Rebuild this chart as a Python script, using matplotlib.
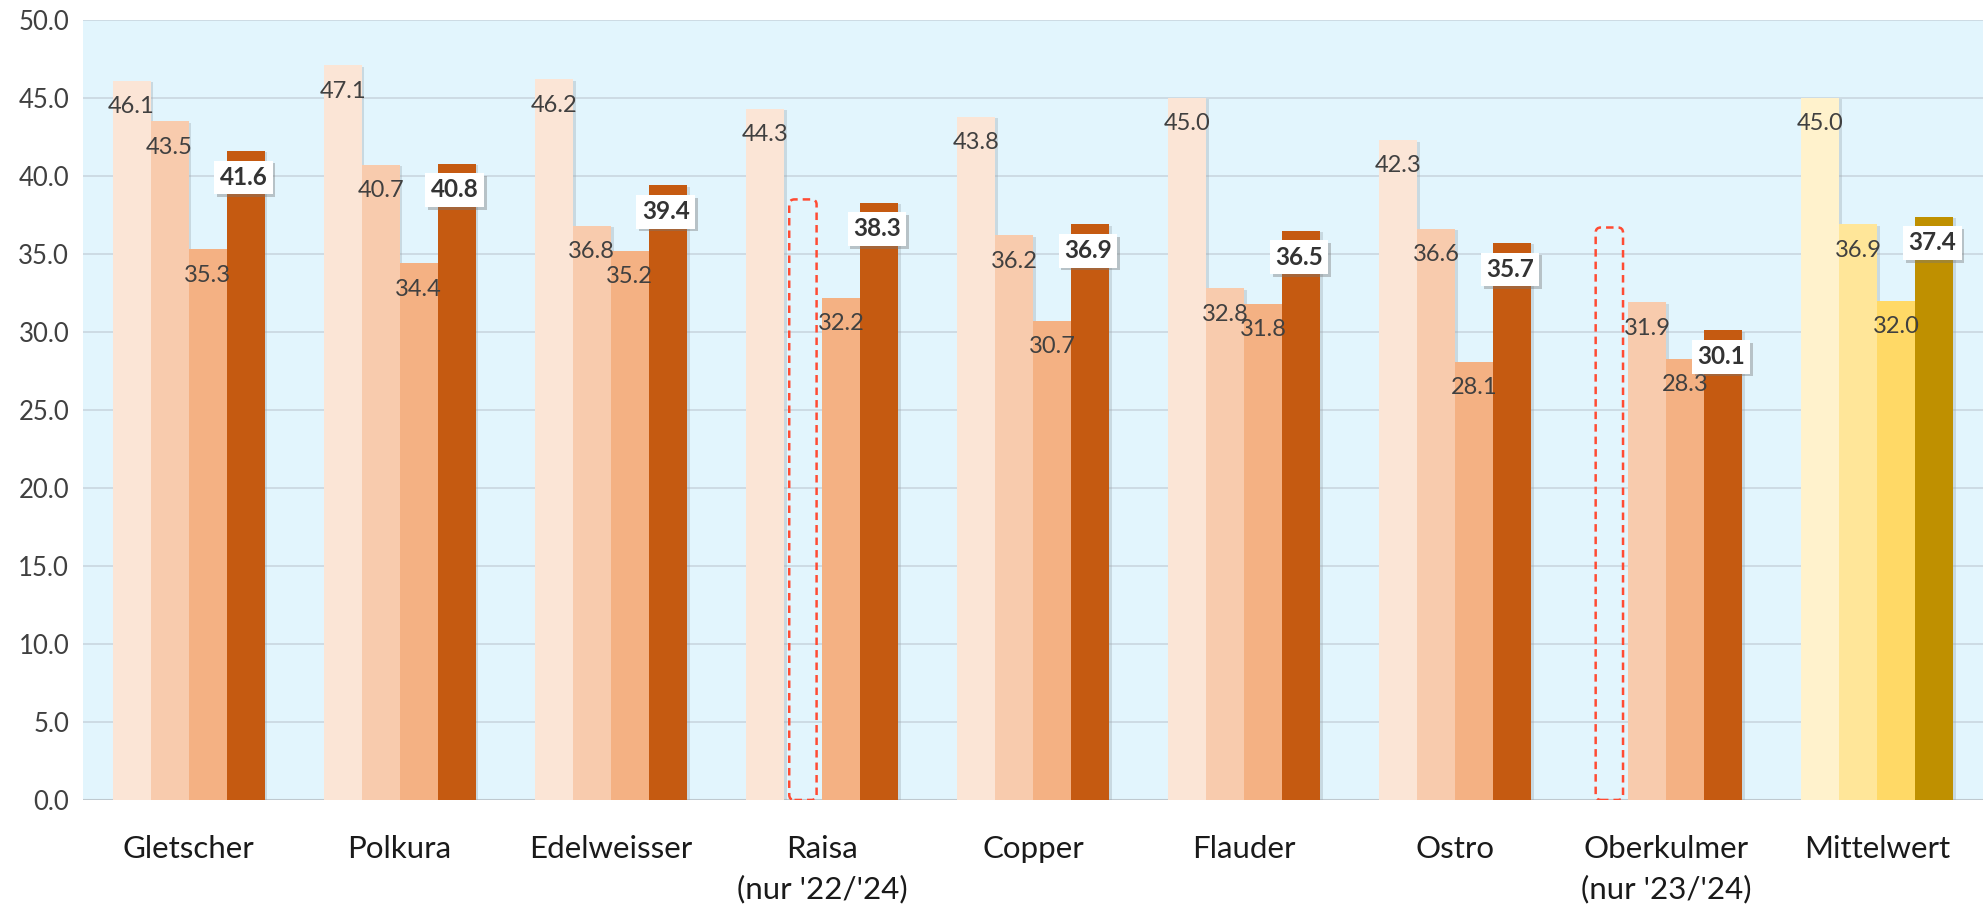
import matplotlib
matplotlib.use("Agg")
import matplotlib.pyplot as plt
import matplotlib.patheffects as pe
from matplotlib.patches import FancyBboxPatch
import numpy as np

# one value per variety and year; None = not grown that year
categories = ["Gletscher", "Polkura", "Edelweisser", "Raisa\n(nur '22/'24)", "Copper",
              "Flauder", "Ostro", "Oberkulmer\n(nur '23/'24)", "Mittelwert"]
s1 = [46.1, 47.1, 46.2, 44.3, 43.8, 45.0, 42.3, None, 45.0]
s2 = [43.5, 40.7, 36.8, None, 36.2, 32.8, 36.6, 31.9, 36.9]
s3 = [35.3, 34.4, 35.2, 32.2, 30.7, 31.8, 28.1, 28.3, 32.0]
avg = [41.6, 40.8, 39.4, 38.3, 36.9, 36.5, 35.7, 30.1, 37.4]
# height of the dashed placeholder boxes for missing years
placeholder = {(3, 1): 38.5, (7, 0): 36.7}

orange = ["#FBE5D6", "#F8CBAD", "#F4B183", "#C55A11"]
gold = ["#FFF2CC", "#FFE699", "#FFD966", "#BF9000"]

plt.rcParams["font.family"] = ["Lato", "DejaVu Sans"]

fig = plt.figure(figsize=(19.86, 9.23), dpi=100)
ax = fig.add_axes([0.0418, 0.1333, 0.9567, 0.845])
ax.set_facecolor("#E2F5FD")

w = 0.18
offs = np.array([-1.5, -0.5, 0.5, 1.5]) * w
series = [s1, s2, s3, avg]
x = np.arange(len(categories))
shadow = [pe.SimplePatchShadow(offset=(2, -1), shadow_rgbFace="#9aa6ad", alpha=0.35), pe.Normal()]

for j, vals in enumerate(series):
    for i, v in enumerate(vals):
        xi = x[i] + offs[j]
        if v is None:
            h = placeholder[(i, j)]
            box = FancyBboxPatch((xi - w * 0.36, 0), w * 0.72, h,
                                 boxstyle="round,pad=0,rounding_size=0.025",
                                 mutation_aspect=13.3, fill=False,
                                 edgecolor="#FF4B33", lw=1.8, ls=(0, (3, 2)), zorder=4)
            ax.add_patch(box)
            continue
        col = gold[j] if i == len(categories) - 1 else orange[j]
        b = ax.bar(xi, v, width=w, color=col, zorder=3)
        b[0].set_path_effects(shadow)
        if j < 3:
            ax.annotate(f"{v:.1f}", (xi, v), xytext=(0, -11), textcoords="offset points",
                        ha="center", va="top", fontsize=17, color="#404040", zorder=5)
        else:
            t = ax.annotate(f"{v:.1f}", (xi - 0.01, v), xytext=(0, -19), textcoords="offset points",
                            ha="center", va="center", fontsize=17.5, fontweight="bold",
                            color="#333333", zorder=6,
                            bbox=dict(boxstyle="square,pad=0.22", fc="white", ec="none"))
            t.get_bbox_patch().set_path_effects(
                [pe.SimplePatchShadow(offset=(2, -2), shadow_rgbFace="#777777", alpha=0.4), pe.Normal()])

ax.set_xlim(-0.5, len(categories) - 0.5)
ax.set_ylim(0, 50)
ax.set_yticks(np.arange(0, 50.1, 5))
ax.set_yticklabels([f"{t:.1f}" for t in np.arange(0, 50.1, 5)], fontsize=18.5, color="#404040")
ax.set_xticks(x)
ax.set_xticklabels(categories, fontsize=22.5, color="#1a1a1a", linespacing=1.5)
ax.tick_params(axis="both", length=0)
ax.tick_params(axis="x", pad=25)
ax.tick_params(axis="y", pad=10)
ax.grid(axis="y", color="#C9D6DF", lw=1.2, zorder=1)
ax.set_axisbelow(True)
for s in ax.spines.values():
    s.set_visible(False)
ax.axhline(0, color="#BFC9CF", lw=1.5, zorder=2)

fig.savefig("out.png", dpi=100)
